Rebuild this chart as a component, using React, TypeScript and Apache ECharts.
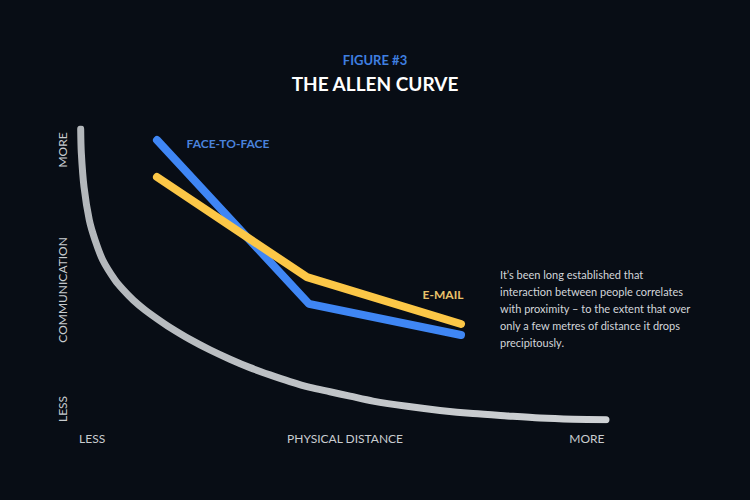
import { useEffect, useRef } from 'react'
import * as echarts from 'echarts'

// distance (0-100) vs communication (0-100)
const allenX = [0.13, 0.25, 0.76, 1.76, 2.84, 4.3, 6.63, 8.2, 10.09, 12.31, 14.83, 17.05, 20.83, 24.62, 28.41, 32.2, 35.98, 39.77, 43.56, 47.35, 51.14, 55.49, 61.93, 68.18, 74.43, 80.87, 87.12, 93.37, 99.62]
const allenY = [100, 91.8, 80.1, 68.7, 61.9, 55.0, 48.1, 44.7, 41.2, 37.8, 34.5, 31.8, 27.7, 24.1, 20.9, 18.0, 15.5, 13.2, 11.2, 9.7, 8.2, 6.5, 4.7, 3.3, 2.2, 1.4, 0.7, 0.3, 0.1]

const faceX = [14.58, 43.37, 72.16]
const faceY = [96.2, 39.9, 29.2]
const emailX = [14.58, 42.99, 72.16]
const emailY = [83.5, 49.1, 33.0]

const xTickValues = [2.3, 50.2, 96]
const xTickLabels = ['LESS', 'PHYSICAL DISTANCE', 'MORE']
const yTickValues = [3.8, 44.7, 92.8]
const yTickLabels = ['LESS', 'COMMUNICATION', 'MORE']

const NOTE =
  'It’s been long established that\ninteraction between people correlates\nwith proximity – to the extent that over\nonly a few metres of distance it drops\nprecipitously.'

const BG = '#080d15'
const BLUE = '#3f86f4'
const YELLOW = '#fcc747'
const FONT = 'Lato, "Noto Sans", sans-serif'

const zip = (xs: number[], ys: number[]) => xs.map((x, i) => [x, ys[i]])

export default function App() {
  const ref = useRef<HTMLDivElement>(null)

  useEffect(() => {
    if (!ref.current) return
    document.body.style.margin = '0'
    const chart = echarts.init(ref.current, undefined, { renderer: 'svg' })

    chart.setOption({
      animation: false,
      backgroundColor: BG,
      textStyle: { fontFamily: FONT },
      title: [
        {
          text: 'FIGURE #3',
          left: 'center',
          top: 48,
          textStyle: { color: '#3f7fe0', fontSize: 13, fontWeight: 'bold', fontFamily: FONT },
        },
        {
          text: 'THE ALLEN CURVE',
          left: 'center',
          top: 69,
          textStyle: { color: '#ffffff', fontSize: 19, fontWeight: 'bold', fontFamily: FONT },
        },
      ],
      grid: { left: 80, right: 142, top: 129, bottom: 80 },
      xAxis: {
        type: 'value',
        min: 0,
        max: 100,
        axisLine: { show: false },
        axisTick: { show: false },
        splitLine: { show: false },
        axisLabel: {
          customValues: xTickValues,
          formatter: (v: number) => xTickLabels[xTickValues.indexOf(v)] ?? '',
          color: '#c8ccd0',
          fontSize: 12,
          margin: 12,
          fontFamily: FONT,
        },
      },
      yAxis: {
        type: 'value',
        min: 0,
        max: 100,
        axisLine: { show: false },
        axisTick: { show: false },
        splitLine: { show: false },
        axisLabel: {
          customValues: yTickValues,
          formatter: (v: number) => yTickLabels[yTickValues.indexOf(v)] ?? '',
          color: '#c8ccd0',
          fontSize: 12,
          rotate: 90,
          margin: 12,
          fontFamily: FONT,
        },
      },
      graphic: [
        {
          type: 'text',
          left: 500,
          top: 266,
          style: {
            text: NOTE,
            fill: '#d3d6da',
            font: `11px ${FONT}`,
            lineHeight: 17,
          },
        },
      ],
      series: [
        {
          type: 'line',
          data: zip(allenX, allenY),
          smooth: 0.3,
          symbol: 'none',
          lineStyle: {
            width: 7,
            cap: 'round',
            join: 'round',
            color: new echarts.graphic.LinearGradient(0, 0, 1, 0, [
              { offset: 0, color: '#b3b7bb' },
              { offset: 1, color: '#cfd2d5' },
            ]),
          },
          z: 1,
        },
        {
          type: 'line',
          data: zip(faceX, faceY).map((p, i) =>
            i === 0
              ? {
                  value: p,
                  label: {
                    show: true,
                    position: 'inside',
                    offset: [71, 3],
                    formatter: 'FACE-TO-FACE',
                    color: '#4a82dc',
                    fontSize: 12,
                    fontWeight: 'bold',
                    fontFamily: FONT,
                  },
                }
              : p,
          ),
          symbol: 'circle',
          symbolSize: 1,
          itemStyle: { color: BLUE },
          lineStyle: { color: BLUE, width: 8, cap: 'round', join: 'round' },
          z: 2,
        },
        {
          type: 'line',
          data: zip(emailX, emailY).map((p, i) =>
            i === 2
              ? {
                  value: p,
                  label: {
                    show: true,
                    position: 'inside',
                    offset: [-18, -29],
                    formatter: 'E-MAIL',
                    color: '#e8c36a',
                    fontSize: 12,
                    fontWeight: 'bold',
                    fontFamily: FONT,
                  },
                }
              : p,
          ),
          symbol: 'circle',
          symbolSize: 1,
          itemStyle: { color: YELLOW },
          lineStyle: { color: YELLOW, width: 8, cap: 'round', join: 'round' },
          z: 3,
        },
      ],
    })

    return () => chart.dispose()
  }, [])

  return <div ref={ref} style={{ width: 750, height: 500 }} />
}
